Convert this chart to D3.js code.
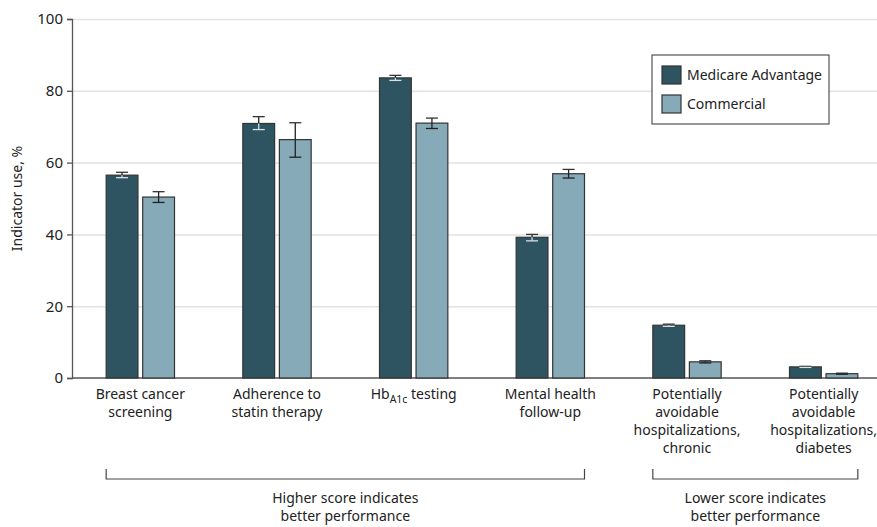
<!DOCTYPE html>
<html>
<head>
<meta charset="utf-8">
<script src="https://cdn.jsdelivr.net/npm/d3@7"></script>
<style>
  body { margin: 0; background: #fff; }
  svg text { font-family: "Noto Sans", sans-serif; fill: #222; }
  .grid line { stroke: #e2e2e2; stroke-width: 1.5; }
  .grid path { display: none; }
</style>
</head>
<body>
<div id="viz"></div>
<script>
// categories (lines of each x label)
var categories = ['breast', 'statin', 'hba1c', 'mental', 'chronic', 'diabetes']
var labelLines = [
  ['Breast cancer', 'screening'],
  ['Adherence to', 'statin therapy'],
  ['HbA1c testing'],
  ['Mental health', 'follow-up'],
  ['Potentially', 'avoidable', 'hospitalizations,', 'chronic'],
  ['Potentially', 'avoidable', 'hospitalizations,', 'diabetes']
]
var seriesNames = ['Medicare Advantage', 'Commercial']

// values and 95% CI
var medicare = [56.5, 70.9, 83.6, 39.2, 14.7, 3.1]
var medicareLow = [55.8, 69.2, 82.9, 38.2, 14.4, 2.95]
var medicareHigh = [57.3, 72.8, 84.3, 40.0, 15.0, 3.25]

var commercial = [50.4, 66.4, 71.0, 56.9, 4.5, 1.2]
var commercialLow = [48.9, 61.5, 69.5, 55.7, 4.2, 1.05]
var commercialHigh = [51.9, 71.1, 72.4, 58.1, 4.8, 1.35]

var yTicks = [0, 20, 40, 60, 80, 100]

// brackets below the axis
var groups = [
  { from: 'breast', to: 'mental', lines: ['Higher score indicates', 'better performance'] },
  { from: 'chronic', to: 'diabetes', lines: ['Lower score indicates', 'better performance'] }
]

var colors = ['#2e5461', '#86aab8']

var W = 877, H = 527
var mLeft = 72, mTop = 19, mBottom = 378, mRight = 877

var svg = d3.select('#viz').append('svg')
  .attr('width', W)
  .attr('height', H)

var xScale = d3.scaleBand()
  .domain(categories)
  .range([mLeft, 892])
  .paddingInner(0.5)
  .paddingOuter(0.25)

var xInner = d3.scaleBand()
  .domain(seriesNames)
  .range([0, xScale.bandwidth()])
  .paddingInner(0.13)

var yScale = d3.scaleLinear()
  .domain([0, 100])
  .range([mBottom, mTop])

// grid lines
svg.append('g')
  .attr('class', 'grid')
  .attr('transform', `translate(${mLeft}, 0)`)
  .call(d3.axisLeft(yScale)
    .tickValues(yTicks.filter(d => d > 0))
    .tickSize(-(mRight - mLeft))
    .tickFormat('')
  )

// y axis
var yAxis = svg.append('g')
  .attr('transform', `translate(${mLeft}, 0)`)
  .call(d3.axisLeft(yScale).tickValues(yTicks).tickSize(5).tickPadding(4))
yAxis.select('.domain').attr('stroke', '#555').attr('stroke-width', 1.3)
yAxis.selectAll('.tick line').attr('stroke', '#555').attr('stroke-width', 1.3)
yAxis.selectAll('.tick text').style('font-size', '15px').attr('fill', '#222')

// x baseline
svg.append('line')
  .attr('x1', mLeft).attr('x2', mRight)
  .attr('y1', mBottom).attr('y2', mBottom)
  .attr('stroke', '#555').attr('stroke-width', 1.3)

var series = [
  { name: seriesNames[0], vals: medicare, lo: medicareLow, hi: medicareHigh, color: colors[0], inner: '#d8e2e6' },
  { name: seriesNames[1], vals: commercial, lo: commercialLow, hi: commercialHigh, color: colors[1], inner: '#222' }
]

series.forEach(function (s) {
  var g = svg.append('g')
  var data = categories.map((c, i) => ({ c: c, v: s.vals[i], lo: s.lo[i], hi: s.hi[i] }))

  g.selectAll('rect')
    .data(data)
    .enter()
    .append('rect')
    .attr('x', d => xScale(d.c) + xInner(s.name))
    .attr('y', d => yScale(d.v))
    .attr('width', xInner.bandwidth())
    .attr('height', d => mBottom - yScale(d.v))
    .attr('fill', s.color)
    .attr('stroke', '#333')
    .attr('stroke-width', 1.2)

  // error bars: part above bar top dark, part inside bar uses inner colour
  var cx = d => xScale(d.c) + xInner(s.name) + xInner.bandwidth() / 2
  var capW = 6
  var eb = g.selectAll('.err').data(data).enter().append('g').attr('class', 'err')
  eb.append('line')
    .attr('x1', cx).attr('x2', cx)
    .attr('y1', d => yScale(d.hi)).attr('y2', d => yScale(d.v))
    .attr('stroke', '#222').attr('stroke-width', 1.3)
  eb.append('line')
    .attr('x1', d => cx(d) - capW).attr('x2', d => cx(d) + capW)
    .attr('y1', d => yScale(d.hi)).attr('y2', d => yScale(d.hi))
    .attr('stroke', '#333').attr('stroke-width', 1.3)
  eb.append('line')
    .attr('x1', cx).attr('x2', cx)
    .attr('y1', d => yScale(d.v)).attr('y2', d => yScale(d.lo))
    .attr('stroke', s.inner).attr('stroke-width', 1.3)
  eb.append('line')
    .attr('x1', d => cx(d) - capW).attr('x2', d => cx(d) + capW)
    .attr('y1', d => yScale(d.lo)).attr('y2', d => yScale(d.lo))
    .attr('stroke', s.inner).attr('stroke-width', 1.3)
})

// x labels
var xl = svg.append('g')
categories.forEach(function (c, i) {
  var t = xl.append('text')
    .attr('x', xScale(c) + xScale.bandwidth() / 2)
    .attr('y', 399)
    .attr('text-anchor', 'middle')
    .style('font-size', '14px')
  labelLines[i].forEach(function (line, j) {
    var ts = t.append('tspan')
      .attr('x', xScale(c) + xScale.bandwidth() / 2)
      .attr('y', 399 + j * 18)
    if (line.indexOf('HbA1c') === 0) {
      ts.append('tspan').text('Hb')
      ts.append('tspan').attr('dy', 4).style('font-size', '10.5px').text('A1c')
      ts.append('tspan').attr('dy', -4).text(line.replace('HbA1c', ''))
    } else {
      ts.text(line)
    }
  })
})

// brackets
groups.forEach(function (gr) {
  var x1 = xScale(gr.from) + xInner(seriesNames[0])
  var x2 = xScale(gr.to) + xInner(seriesNames[1]) + xInner.bandwidth()
  var yb = 479
  svg.append('path')
    .attr('d', `M${x1},${yb - 10}V${yb}H${x2}V${yb - 10}`)
    .attr('fill', 'none')
    .attr('stroke', '#444')
    .attr('stroke-width', 1.2)
  var t = svg.append('text')
    .attr('text-anchor', 'middle')
    .style('font-size', '14px')
  gr.lines.forEach(function (line, j) {
    t.append('tspan')
      .attr('x', (x1 + x2) / 2)
      .attr('y', 503 + j * 18)
      .text(line)
  })
})

// y axis title
svg.append('text')
  .attr('transform', `translate(22, ${(mTop + mBottom) / 2}) rotate(-90)`)
  .attr('text-anchor', 'middle')
  .style('font-size', '14px')
  .text('Indicator use, %')

// legend
var lg = svg.append('g').attr('transform', 'translate(652, 55)')
lg.append('rect')
  .attr('width', 177).attr('height', 69)
  .attr('fill', '#fff').attr('stroke', '#333').attr('stroke-width', 1)
series.forEach(function (s, i) {
  lg.append('rect')
    .attr('x', 10).attr('y', 11 + i * 29)
    .attr('width', 19).attr('height', 18)
    .attr('fill', s.color).attr('stroke', '#333').attr('stroke-width', 1.2)
  lg.append('text')
    .attr('x', 35).attr('y', 25 + i * 29)
    .style('font-size', '14px')
    .text(s.name)
})
</script>
</body>
</html>
